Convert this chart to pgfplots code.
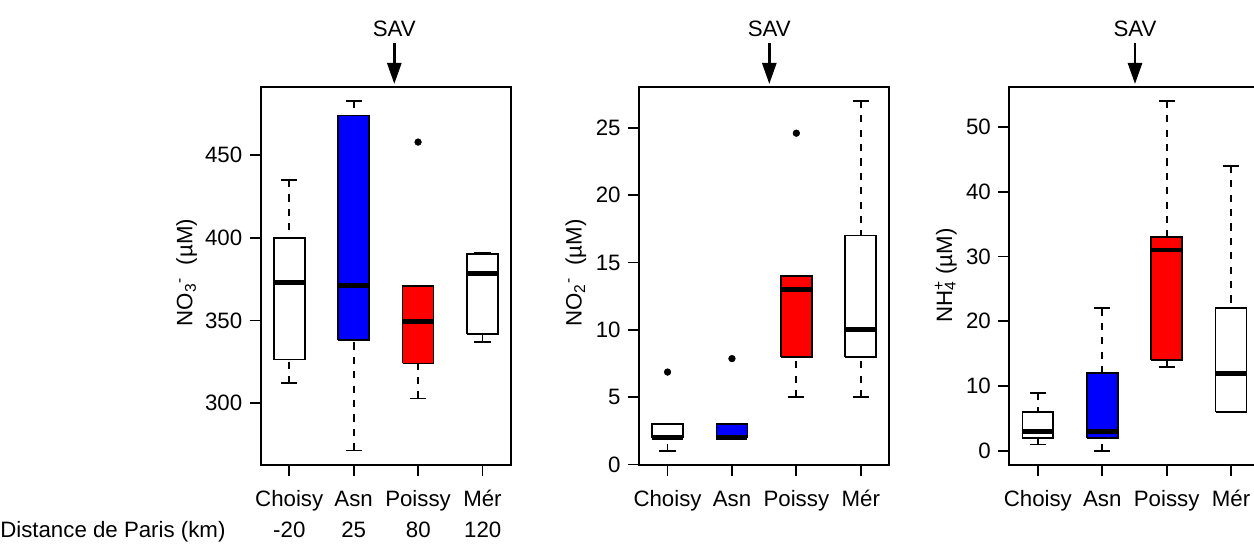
\documentclass[border=0pt]{standalone}
\usepackage{pgfplots}
\pgfplotsset{compat=1.18}
\usetikzlibrary{arrows.meta}
\usepackage{fontspec}
\setmainfont{Liberation Sans}
\newcommand{\labfont}{\fontsize{16.7}{20}\selectfont}

\pgfplotsset{
  rpanel/.style={
    scale only axis, width=187.725pt, height=283.6pt,
    anchor=south west,
    xmin=0.557, xmax=4.443,
    xtick={1,2,3,4}, xticklabels={Choisy,Asn,Poissy,Mér},
    tick pos=left, tick align=outside,
    major tick length=8.4pt,
    tick style={black, line width=1.3pt},
    axis line style={line width=1.3pt},
    ticklabel style={font=\labfont},
    /pgf/number format/assume math mode=true,
    yticklabel style={inner sep=0pt, xshift=-5.25pt},
    xticklabel style={inner sep=0pt, anchor=base, yshift=-22.5pt},
    clip=false,
    unbounded coords=jump,
  },
  ylab/.style={every axis y label/.style={at={(axis description cs:#1)}, rotate=90, anchor=center, font=\labfont}},
  whisk/.style={draw=black, line width=1.3pt, dash pattern=on 5.4pt off 5.4pt},
  cap/.style={draw=black, line width=1.3pt},
  rbox/.style={draw=black, fill=#1, line width=1.3pt},
  med/.style={draw=black, line width=3.6pt},
  outl/.style={only marks, mark=*, mark size=2.5pt, mark options={fill=black, draw=black}},
}

\begin{document}
\begin{tikzpicture}
\useasboundingbox (0,0) rectangle (940.5pt,408.75pt);
\clip (0,0) rectangle (940.5pt,408.75pt);

% ---------- Panel 1 : NO3- ----------
\begin{axis}[rpanel, at={(195.525pt,60pt)},
  ymin=262.6, ymax=491.3, ytick={300,350,400,450},
  ylabel={NO\textsubscript{3}\textsuperscript{-}\ \ (µM)}, ylab={-0.2956,0.509}]
\addplot[whisk] coordinates {(1,312) (1,326.4) (1,nan) (1,435) (1,400) (1,nan)
  (2,271.4) (2,338.1) (2,nan) (2,482.7) (2,473.9) (2,nan)
  (3,302.8) (3,324) (3,nan)
  (4,336.9) (4,341.9) (4,nan) (4,390.9) (4,390.3)};
\addplot[cap] coordinates {(0.875,312) (1.125,312) (1,nan) (0.875,435) (1.125,435) (1,nan)
  (1.875,271.4) (2.125,271.4) (2,nan) (1.875,482.7) (2.125,482.7) (2,nan)
  (2.875,302.8) (3.125,302.8) (3,nan)
  (3.875,336.9) (4.125,336.9) (4,nan) (3.875,390.9) (4.125,390.9)};
\addplot[rbox=white] coordinates {(0.76,326.4) (1.24,326.4) (1.24,400) (0.76,400) (0.76,326.4)};
\addplot[rbox=blue] coordinates {(1.76,338.1) (2.24,338.1) (2.24,473.9) (1.76,473.9) (1.76,338.1)};
\addplot[rbox=red] coordinates {(2.76,324) (3.24,324) (3.24,371) (2.76,371) (2.76,324)};
\addplot[rbox=white] coordinates {(3.76,341.9) (4.24,341.9) (4.24,390.3) (3.76,390.3) (3.76,341.9)};
\addplot[med] coordinates {(0.76,373.2) (1.24,373.2) (1,nan) (1.76,371.2) (2.24,371.2) (2,nan)
  (2.76,349.2) (3.24,349.2) (3,nan) (3.76,378.2) (4.24,378.2)};
\addplot[outl] coordinates {(3,457.9)};
\end{axis}

% ---------- Panel 2 : NO2- ----------
\begin{axis}[rpanel, at={(479.25pt,60pt)},
  ymin=-0.04, ymax=28.04, ytick={0,5,10,15,20,25},
  ylabel={NO\textsubscript{2}\textsuperscript{-}\ \ (µM)}, ylab={-0.2525,0.5075}]
\addplot[whisk] coordinates {(1,1) (1,2) (1,nan)
  (3,5) (3,8) (3,nan)
  (4,5) (4,8) (4,nan) (4,27) (4,17)};
\addplot[cap] coordinates {(0.875,1) (1.125,1) (1,nan)
  (2.875,5) (3.125,5) (3,nan)
  (3.875,5) (4.125,5) (4,nan) (3.875,27) (4.125,27)};
\addplot[rbox=white] coordinates {(0.76,2) (1.24,2) (1.24,3) (0.76,3) (0.76,2)};
\addplot[rbox=blue] coordinates {(1.76,2) (2.24,2) (2.24,3) (1.76,3) (1.76,2)};
\addplot[rbox=red] coordinates {(2.76,8) (3.24,8) (3.24,14) (2.76,14) (2.76,8)};
\addplot[rbox=white] coordinates {(3.76,8) (4.24,8) (4.24,17) (3.76,17) (3.76,8)};
\addplot[med] coordinates {(0.76,2) (1.24,2) (1,nan) (1.76,2) (2.24,2) (2,nan)
  (2.76,13) (3.24,13) (3,nan) (3.76,10) (4.24,10)};
\addplot[outl] coordinates {(1,6.86) (2,7.86) (3,24.6)};
\end{axis}

% ---------- Panel 3 : NH4+ ----------
\begin{axis}[rpanel, at={(756.975pt,60pt)},
  ymin=-2.16, ymax=56.16, ytick={0,10,20,30,40,50},
  ylabel={NH\rlap{\textsubscript{4}}\textsuperscript{+} (µM)}, ylab={-0.2537,0.501}]
\addplot[whisk] coordinates {(1,1) (1,2) (1,nan) (1,9) (1,6) (1,nan)
  (2,0) (2,2) (2,nan) (2,22) (2,12) (2,nan)
  (3,13) (3,14) (3,nan) (3,54) (3,33) (3,nan)
  (4,44) (4,22)};
\addplot[cap] coordinates {(0.875,1) (1.125,1) (1,nan) (0.875,9) (1.125,9) (1,nan)
  (1.875,0) (2.125,0) (2,nan) (1.875,22) (2.125,22) (2,nan)
  (2.875,13) (3.125,13) (3,nan) (2.875,54) (3.125,54) (3,nan)
  (3.875,44) (4.125,44)};
\addplot[rbox=white] coordinates {(0.76,2) (1.24,2) (1.24,6) (0.76,6) (0.76,2)};
\addplot[rbox=blue] coordinates {(1.76,2) (2.24,2) (2.24,12) (1.76,12) (1.76,2)};
\addplot[rbox=red] coordinates {(2.76,14) (3.24,14) (3.24,33) (2.76,33) (2.76,14)};
\addplot[rbox=white] coordinates {(3.76,6) (4.24,6) (4.24,22) (3.76,22) (3.76,6)};
\addplot[med] coordinates {(0.76,3) (1.24,3) (1,nan) (1.76,3) (2.24,3) (2,nan)
  (2.76,31) (3.24,31) (3,nan) (3.76,12) (4.24,12)};
\end{axis}

% ---------- annotations ----------
\foreach \xa in {295.725pt, 576.975pt, 851.25pt} {
  \node[font=\labfont, anchor=base, inner sep=0pt] at (\xa, 381.225pt) {SAV};
  \draw[line width=2pt, -{Triangle[length=15.75pt, width=10.5pt]}] (\xa, 376.275pt) -- (\xa, 345.75pt);
}
\node[font=\labfont, anchor=base west, inner sep=0pt] at (0pt, 5.25pt) {Distance de Paris (km)};
\node[font=\labfont, anchor=base, inner sep=0pt] at (216.975pt, 5.25pt) {-20};
\node[font=\labfont, anchor=base, inner sep=0pt] at (265.275pt, 5.25pt) {25};
\node[font=\labfont, anchor=base, inner sep=0pt] at (313.725pt, 5.25pt) {80};
\node[font=\labfont, anchor=base, inner sep=0pt] at (362.025pt, 5.25pt) {120};
\end{tikzpicture}
\end{document}
